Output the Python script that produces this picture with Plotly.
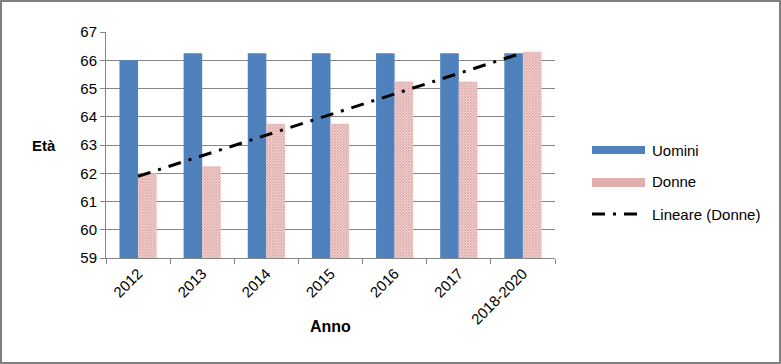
import numpy as np
import plotly.graph_objects as go

anni = ["2012", "2013", "2014", "2015", "2016", "2017", "2018-2020"]
uomini = [66.0, 66.25, 66.25, 66.25, 66.25, 66.25, 66.25]
donne = [62.0, 62.25, 63.75, 63.75, 65.25, 65.25, 66.3]
y_ticks = [59, 60, 61, 62, 63, 64, 65, 66, 67]
legend_labels = ["Uomini", "Donne", "Lineare (Donne)"]

# linear trendline on Donne (as in spreadsheet "Lineare")
xs = np.arange(1, len(donne) + 1)
slope, intercept = np.polyfit(xs, donne, 1)
trend = list(slope * xs + intercept)

W, H = 781, 364
ml, mr, mt, mb = 106, 226, 32, 106
pw, ph = W - ml - mr, H - mt - mb
FONT = "Liberation Sans"
BLUE = "#4f81bd"
RED = "#c0504d"
DASH = "13px,8px,3px,8px"

def px_x(p):
    return (p - ml) / pw

def px_y(p):
    return (H - mb - p) / ph

fig = go.Figure()
fig.add_trace(go.Bar(x=anni, y=uomini, name=legend_labels[0],
                     marker=dict(color=BLUE, line=dict(width=0))))
fig.add_trace(go.Bar(
    x=anni, y=donne, name=legend_labels[1],
    marker=dict(color="#ffffff", line=dict(width=0),
                pattern=dict(shape="x", fgcolor=RED, bgcolor="#f4dede", size=2, solidity=0.6)),
))
fig.add_trace(go.Scatter(x=anni, y=trend, mode="lines", name=legend_labels[2],
                         line=dict(color="#000000", width=3, dash=DASH)))

fig.update_layout(
    width=W, height=H,
    margin=dict(l=ml, r=mr, t=mt, b=mb),
    paper_bgcolor="white", plot_bgcolor="white",
    barmode="group", bargap=0.42, bargroupgap=0,
    font=dict(family=FONT, size=14, color="#000000"),
    showlegend=False,
    xaxis=dict(type="category", tickangle=-45, ticks="outside", tickson="boundaries",
               ticklen=5, tickcolor="#868686", showline=True, linecolor="#868686",
               showgrid=False, tickfont=dict(size=15), automargin=False),
    yaxis=dict(range=[59, 67], tickvals=y_ticks, ticks="outside", ticklen=5,
               tickcolor="#868686", showline=True, linecolor="#868686",
               showgrid=True, gridcolor="#868686", gridwidth=1, zeroline=False,
               tickfont=dict(size=15), automargin=False),
)

fig.add_annotation(text="<b>Età</b>", xref="paper", yref="paper",
                   x=px_x(44), y=px_y(145), showarrow=False,
                   xanchor="center", yanchor="middle", font=dict(size=15, family=FONT))
fig.add_annotation(text="<b>Anno</b>", xref="paper", yref="paper",
                   x=px_x(330), y=px_y(326), showarrow=False,
                   xanchor="center", yanchor="middle", font=dict(size=16, family=FONT))

# legend drawn manually (wide Excel-style swatches)
leg_y = [150, 182, 214]
fig.add_shape(type="rect", xref="paper", yref="paper",
              x0=px_x(592), x1=px_x(645), y0=px_y(154), y1=px_y(146),
              fillcolor=BLUE, line=dict(width=0))
fig.add_shape(type="rect", xref="paper", yref="paper",
              x0=px_x(592), x1=px_x(645), y0=px_y(187), y1=px_y(178),
              fillcolor="#e0aead", line=dict(width=0))
fig.add_shape(type="line", xref="paper", yref="paper",
              x0=px_x(592), x1=px_x(644), y0=px_y(214), y1=px_y(214),
              line=dict(color="#000000", width=3, dash=DASH))
for lab, yy in zip(legend_labels, leg_y):
    fig.add_annotation(text=lab, xref="paper", yref="paper", x=px_x(650), y=px_y(yy),
                       xanchor="left", yanchor="middle", showarrow=False,
                       font=dict(size=15, family=FONT))

fig.add_shape(type="rect", xref="paper", yref="paper",
              x0=px_x(1), x1=px_x(W - 1), y0=px_y(H - 1), y1=px_y(1),
              line=dict(color="#7f7f7f", width=2), layer="above")

fig.write_html("out.html", config={"displayModeBar": False},
               post_script="document.body.style.margin='0';document.body.style.padding='0';")
